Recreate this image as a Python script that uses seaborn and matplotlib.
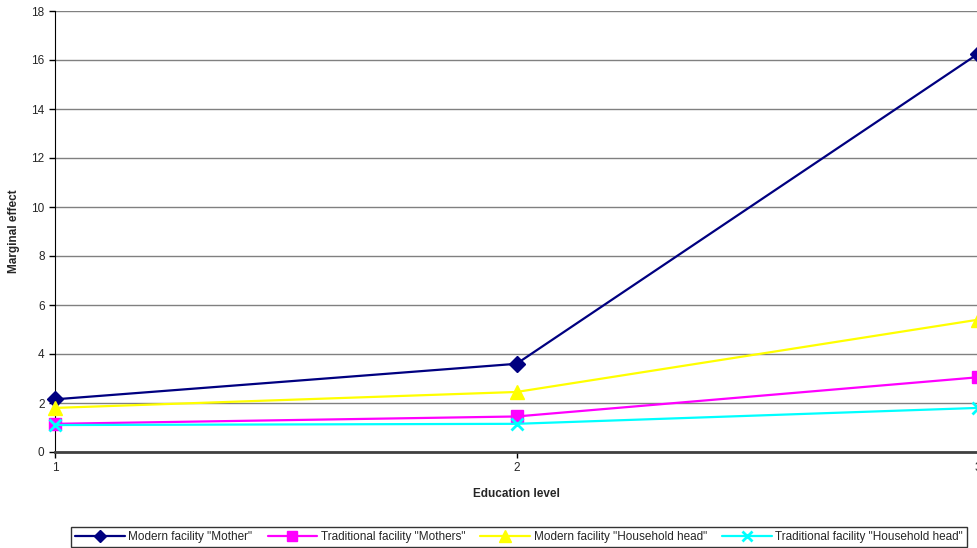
import pandas as pd
import matplotlib.pyplot as plt
import seaborn as sns

#### Marginal effect of education level on facility use

levels = [1, 2, 3]
modern_mother = [2.15, 3.6, 16.25]
traditional_mothers = [1.15, 1.45, 3.05]
modern_head = [1.8, 2.45, 5.4]
traditional_head = [1.1, 1.15, 1.8]

names = ['Modern facility "Mother"', 'Traditional facility "Mothers"',
         'Modern facility "Household head"', 'Traditional facility "Household head"']
series = [modern_mother, traditional_mothers, modern_head, traditional_head]

df = pd.DataFrame({
    'level': levels * 4,
    'value': sum(series, []),
    'series': [n for n in names for _ in levels],
})

sns.set_style('white')
plt.rcParams['font.family'] = ['Liberation Sans', 'DejaVu Sans']

colors = ['#000080', '#FF00FF', '#FFFF00', '#00FFFF']
markers = ['D', 's', '^', 'x']
sizes = [8, 9, 10, 9]

fig = plt.figure(figsize=(9.78, 5.48), dpi=100)
ax = fig.add_axes([55 / 978, 96 / 548, 923 / 978, 441 / 548])

for name, c, m, s in zip(names, colors, markers, sizes):
    sub = df[df['series'] == name]
    sns.lineplot(data=sub, x='level', y='value', ax=ax, color=c, marker=m,
                 markersize=s, markeredgecolor=c, markeredgewidth=2 if m == 'x' else 1,
                 linewidth=1.6, label=name, clip_on=False, zorder=3)

ax.set_xlim(1, 3)
ax.set_ylim(0, 18)
ax.set_xticks(levels)
ax.set_yticks(range(0, 19, 2))
ax.yaxis.grid(True, color='#808080', linewidth=1)
ax.set_axisbelow(True)
for side in ['top', 'right']:
    ax.spines[side].set_visible(False)
ax.spines['left'].set_color('black')
ax.spines['bottom'].set_color('#404040')
ax.spines['bottom'].set_linewidth(2)
ax.tick_params(axis='both', direction='out', length=4, width=1, labelsize=8.5,
               left=True, bottom=True, color='black')
ax.set_xlabel('Education level', fontsize=8.5, fontweight='bold', labelpad=10)
ax.set_ylabel('Marginal effect', fontsize=8.5, fontweight='bold', labelpad=8)

ax.legend(loc='center', bbox_to_anchor=(519 / 978, 1 - 537 / 548), bbox_transform=fig.transFigure,
          ncol=4, fontsize=8.5, frameon=True, fancybox=False, edgecolor='black',
          handlelength=4.2, columnspacing=1.3, handletextpad=0.3, borderpad=0.3,
          markerscale=0.8)

plt.savefig('out.png', dpi=100)
